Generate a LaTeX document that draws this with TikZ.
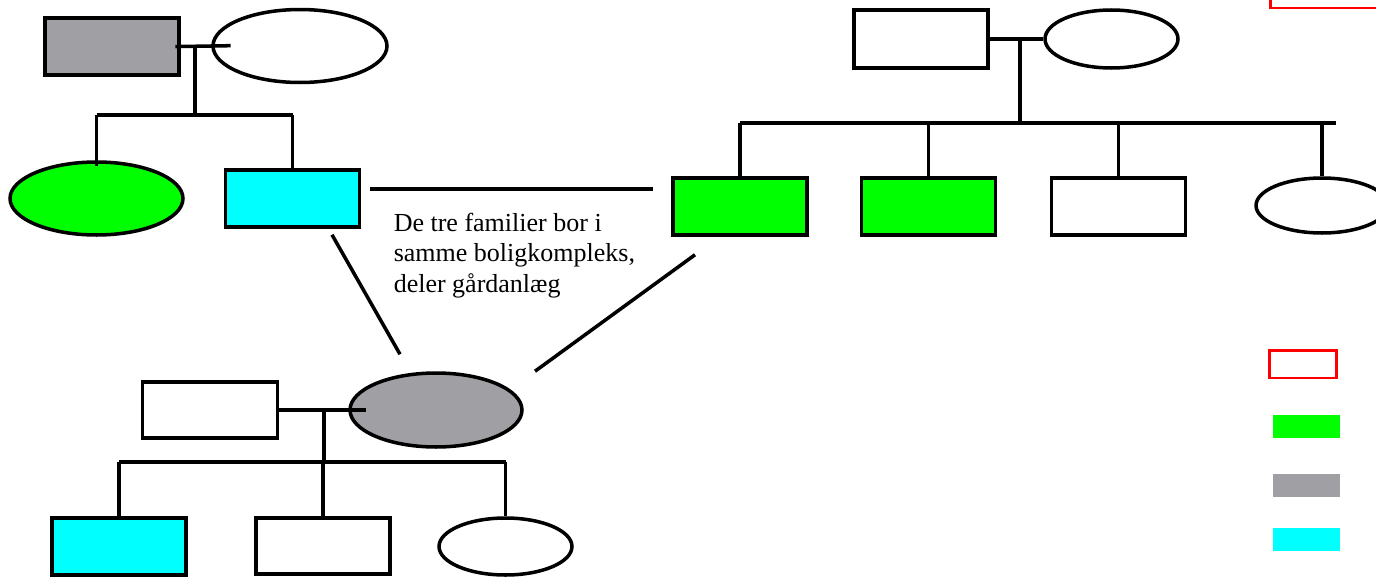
\documentclass[tikz,border=0pt]{standalone}
\usepackage{fontspec}
\setmainfont{Liberation Serif}
\usetikzlibrary{shapes.geometric}
\definecolor{pedGray}{RGB}{160, 160, 164}
\definecolor{pedGreen}{RGB}{0, 255, 0}
\definecolor{pedCyan}{RGB}{0, 255, 255}
\definecolor{pedRed}{RGB}{255, 0, 0}

\begin{document}
\begin{tikzpicture}[x=0.02cm, y=-0.02cm, line width=2pt,
    male/.style={draw, rectangle, inner sep=0pt, minimum width=2.68cm, minimum height=1.14cm},
    female/.style={draw, ellipse, inner sep=0pt, minimum width=2.66cm, minimum height=1.14cm},
    keybox/.style={rectangle, inner sep=0pt, minimum width=1.34cm, minimum height=0.46cm}]
    \clip (0,0) rectangle (1376,578);

    % Family 1 (top left)
    \node[male, fill=pedGray] (g1) at (112,46.5) {};
    \node[female, minimum width=3.48cm, minimum height=1.46cm] (w1) at (300,46) {};
    \node[female, fill=pedGreen, minimum width=3.46cm, minimum height=1.46cm] (c1) at (96.5,198.5) {};
    \node[male, fill=pedCyan] (c2) at (292.5,198.5) {};

    \draw[shorten <=-3pt, shorten >=-11pt] (g1.east) -- (w1.west);
    \coordinate (p1) at (195,47);
    \coordinate (s1) at (195,115);
    \draw (p1) -- (s1);
    \draw (c1.north |- s1) -- (c2.north |- s1);
    \draw (c1.north |- s1) -- ([yshift=-3pt]c1.north);
    \draw (c2.north |- s1) -- (c2.north);

    % Family 2 (top right)
    \node[male, minimum height=1.16cm] (f2) at (921,39) {};
    \node[female, minimum height=1.16cm] (m2) at (1111.5,39) {};
    \node[male, fill=pedGreen] (d1) at (740,206.5) {};
    \node[male, fill=pedGreen] (d2) at (928.5,206.5) {};
    \node[male] (d3) at (1118.5,206.5) {};
    \node[female, minimum width=2.64cm, minimum height=1.1cm] (d4) at (1322,205.5) {};

    \draw (f2.east) -- (m2.west);
    \coordinate (p2) at (1020,39);
    \coordinate (s2) at (1020,123);
    \draw (p2) -- (s2);
    \draw (d1.north |- s2) -- ([xshift=8]d4.north |- s2);
    \foreach \k in {d1,d2,d3,d4}
        \draw (\k.north |- s2) -- (\k.north);

    % Family 3 (bottom)
    \node[male, minimum width=2.7cm, minimum height=1.12cm] (f3) at (210,410) {};
    \node[female, fill=pedGray, minimum width=3.44cm, minimum height=1.48cm] (m3) at (436,410) {};
    \node[male, fill=pedCyan] (k1) at (119,546.5) {};
    \node[male, minimum height=1.12cm] (k2) at (323,546) {};
    \node[female] (k3) at (505.5,546.5) {};

    \draw[shorten >=-10pt] (f3.east) -- (m3.west);
    \coordinate (p3) at (324,411);
    \coordinate (s3) at (324,462);
    \draw (p3) -- (s3);
    \draw (k1.north |- s3) -- (k3.north |- s3);
    \foreach \k in {k1,k2,k3}
        \draw (\k.north |- s3) -- (\k.north);

    % Links between the families
    \draw ([shift={(9,-9.5)}]c2.east) -- ([shift={(-18,-17.5)}]d1.west);
    \draw ([shift={(39.5,6)}]c2.south) -- ([shift={(-36,-17)}]m3.north);
    \draw ([shift={(-45,18)}]d1.south) -- ([shift={(99,0)}]m3.north);

    \node[anchor=north west, inner sep=0pt, align=left, font=\fontsize{14.8pt}{17.6pt}\selectfont] (note) at (392,211)
        {De tre familier bor i\\samme boligkompleks,\\deler gårdanlæg};

    % Legend (cut at the right edge)
    \node[draw=pedRed, line width=1.7pt, rectangle, minimum width=4cm, minimum height=1cm] (topkey) at (1370,-17) {};
    \node[keybox, draw=pedRed, line width=1.7pt, minimum height=0.56cm] (kred) at (1302.5,364) {};
    \node[keybox, fill=pedGreen] (kgreen) at (1306.5,426.5) {};
    \node[keybox, fill=pedGray] (kgray) at (1306.5,485.5) {};
    \node[keybox, fill=pedCyan] (kcyan) at (1306.5,539.5) {};
\end{tikzpicture}
\end{document}
